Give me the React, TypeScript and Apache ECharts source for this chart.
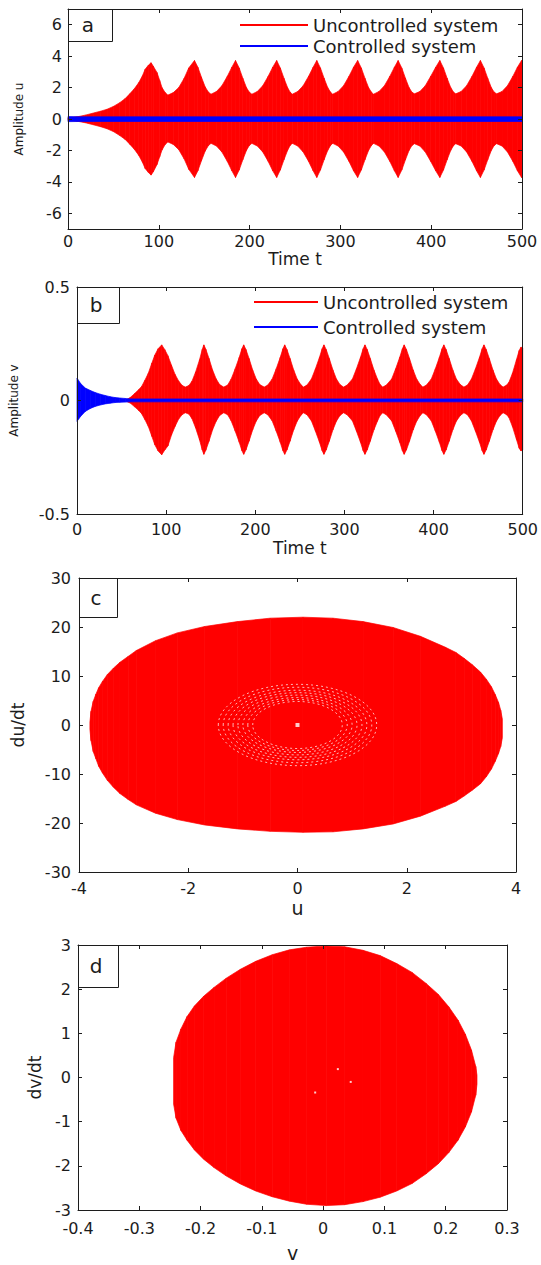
import React, { useEffect, useRef } from "react";
import * as echarts from "echarts";

// ---------------- data ----------------
const timeTicks = [0, 100, 200, 300, 400, 500];
const amplitudeUTicks = [-6, -4, -2, 0, 2, 4, 6];
const seriesNames = ["Uncontrolled system", "Controlled system"];
const panelLabels = ["a", "b", "c", "d"];

// [t, upper envelope, lower envelope] of u(t), uncontrolled
const uEnvelopeUncontrolled = [
  [0, 0.08, -0.08], [6, 0.12, -0.12], [12, 0.16, -0.16], [20, 0.26, -0.25], [28, 0.38, -0.37],
  [36, 0.5, -0.49], [43, 0.62, -0.62], [50, 0.8, -0.8], [57, 1.04, -1.05], [63, 1.3, -1.3],
  [68, 1.6, -1.6], [73, 1.92, -1.92], [78, 2.32, -2.32], [82, 2.75, -2.75], [85, 3.17, -3.15],
  [88.5, 3.42, -3.4], [91.5, 3.58, -3.57], [94, 3.35, -3.35], [98, 2.96, -2.9], [101, 2.45, -2.4],
  [103.5, 2.0, -1.98], [107, 1.68, -1.62], [110, 1.52, -1.46], [116, 1.68, -1.62], [122, 2.0, -1.95],
  [128, 2.6, -2.55], [133, 3.25, -3.2], [139.3, 3.72, -3.72], [143, 3.3, -3.3], [147, 2.65, -2.65],
  [151, 2.05, -2.05], [154.5, 1.72, -1.7], [157.5, 1.58, -1.55],
  [163.5, 1.75, -1.72], [169.5, 2.12, -2.1], [175.5, 2.72, -2.7], [180.5, 3.3, -3.3], [184.5, 3.72, -3.72],
  [188.5, 3.25, -3.25], [192.5, 2.6, -2.6], [196.5, 2.0, -2.0], [199.5, 1.72, -1.7], [202.5, 1.58, -1.55],
  [208.5, 1.75, -1.72], [214.5, 2.12, -2.1], [220.5, 2.72, -2.7], [225.5, 3.3, -3.3], [229.8, 3.72, -3.72],
  [233.8, 3.25, -3.25], [237.8, 2.6, -2.6], [241.8, 2.0, -2.0], [244.5, 1.72, -1.7], [247, 1.58, -1.55],
  [253, 1.75, -1.72], [259, 2.12, -2.1], [265, 2.72, -2.7], [270, 3.3, -3.3], [274, 3.72, -3.72],
  [278, 3.25, -3.25], [282, 2.6, -2.6], [286, 2.0, -2.0], [289, 1.72, -1.7], [291.5, 1.58, -1.55],
  [297.5, 1.75, -1.72], [303.5, 2.12, -2.1], [309.5, 2.72, -2.7], [314.5, 3.3, -3.3], [319, 3.72, -3.72],
  [323, 3.25, -3.25], [327, 2.6, -2.6], [331, 2.0, -2.0], [334, 1.72, -1.7], [336.5, 1.58, -1.55],
  [342.5, 1.75, -1.72], [348.5, 2.12, -2.1], [354.5, 2.72, -2.7], [359.5, 3.3, -3.3], [363.6, 3.72, -3.72],
  [367.6, 3.25, -3.25], [371.6, 2.6, -2.6], [375.6, 2.0, -2.0], [378.6, 1.72, -1.7], [381.5, 1.6, -1.57],
  [387.5, 1.75, -1.72], [393.5, 2.12, -2.1], [399.5, 2.72, -2.7], [405, 3.3, -3.3], [409.5, 3.72, -3.72],
  [413.5, 3.25, -3.25], [417.5, 2.6, -2.6], [421.5, 2.0, -2.0], [424.5, 1.72, -1.7], [427, 1.6, -1.57],
  [433, 1.75, -1.72], [439, 2.12, -2.1], [445, 2.72, -2.7], [450, 3.3, -3.3], [454.2, 3.72, -3.72],
  [458.2, 3.25, -3.25], [462.2, 2.6, -2.6], [466.2, 2.0, -2.0], [469.2, 1.72, -1.7], [472, 1.6, -1.57],
  [478, 1.75, -1.72], [484, 2.12, -2.1], [490, 2.72, -2.7], [495, 3.3, -3.3], [499.5, 3.72, -3.72],
  [500, 3.7, -3.7],
];

// [t, upper, lower] of u(t), controlled
const uEnvelopeControlled = [
  [0, 0.16, -0.17], [10, 0.14, -0.16], [500, 0.14, -0.16],
];

// [t, upper, lower] of v(t), uncontrolled
const vEnvelopeUncontrolled = [
  [55.7, 0.004, -0.004], [60, 0.014, -0.012], [65, 0.032, -0.029], [69, 0.047, -0.043],
  [72.5, 0.062, -0.058], [76, 0.088, -0.083], [80, 0.12, -0.114], [84, 0.165, -0.158],
  [87.3, 0.2, -0.195], [91, 0.228, -0.222], [95, 0.245, -0.239], [98.5, 0.224, -0.218],
  [102, 0.197, -0.2], [106, 0.155, -0.152], [110, 0.115, -0.114], [114, 0.086, -0.082],
  [118, 0.066, -0.062], [121.5, 0.059, -0.054], [125.5, 0.066, -0.06], [129, 0.085, -0.08],
  [133, 0.125, -0.12], [137.5, 0.18, -0.174], [140.5, 0.225, -0.218], [142.3, 0.245, -0.237],
  [144.5, 0.226, -0.219], [148, 0.186, -0.18], [152, 0.135, -0.13], [156, 0.096, -0.092],
  [160, 0.07, -0.066], [164.6, 0.059, -0.054],
  [169, 0.068, -0.063], [173, 0.095, -0.09], [177.5, 0.14, -0.135], [182, 0.19, -0.184],
  [185, 0.228, -0.221], [187, 0.245, -0.237], [189.5, 0.225, -0.218], [193, 0.185, -0.179],
  [197, 0.135, -0.13], [201, 0.095, -0.091], [205, 0.07, -0.066], [210, 0.059, -0.054],
  [214, 0.068, -0.063], [219, 0.095, -0.09], [223.5, 0.14, -0.135], [228, 0.19, -0.184],
  [231, 0.228, -0.221], [233, 0.245, -0.237], [235.5, 0.225, -0.218], [239, 0.185, -0.179],
  [243, 0.135, -0.13], [247, 0.095, -0.091], [251, 0.07, -0.066], [254, 0.059, -0.054],
  [258, 0.068, -0.063], [263, 0.095, -0.09], [267.5, 0.14, -0.135], [272, 0.19, -0.184],
  [275, 0.228, -0.221], [277, 0.245, -0.237], [279.5, 0.225, -0.218], [283, 0.185, -0.179],
  [287, 0.135, -0.13], [291, 0.095, -0.091], [295, 0.07, -0.066], [299, 0.059, -0.054],
  [303, 0.068, -0.063], [309, 0.095, -0.09], [313.5, 0.14, -0.135], [318, 0.19, -0.184],
  [321, 0.228, -0.221], [323, 0.245, -0.237], [325.5, 0.225, -0.218], [329, 0.185, -0.179],
  [333, 0.135, -0.13], [337, 0.095, -0.091], [340, 0.07, -0.066], [343, 0.059, -0.054],
  [347, 0.068, -0.063], [353, 0.095, -0.09], [357.5, 0.14, -0.135], [362, 0.19, -0.184],
  [365, 0.228, -0.221], [367, 0.245, -0.237], [369.5, 0.225, -0.218], [373, 0.185, -0.179],
  [377, 0.135, -0.13], [381, 0.095, -0.091], [385, 0.07, -0.066], [388, 0.059, -0.054],
  [392, 0.068, -0.063], [397.5, 0.095, -0.09], [402, 0.14, -0.135], [406.5, 0.19, -0.184],
  [409.5, 0.228, -0.221], [411.5, 0.245, -0.237], [414, 0.225, -0.218], [417.5, 0.185, -0.179],
  [421.5, 0.135, -0.13], [425.5, 0.095, -0.091], [430, 0.07, -0.066], [434, 0.059, -0.054],
  [438, 0.068, -0.063], [442.5, 0.095, -0.09], [447, 0.14, -0.135], [451.5, 0.19, -0.184],
  [454.5, 0.228, -0.221], [456.5, 0.245, -0.237], [459, 0.225, -0.218], [462.5, 0.185, -0.179],
  [466.5, 0.135, -0.13], [470.5, 0.095, -0.091], [474.5, 0.07, -0.066], [478, 0.059, -0.054],
  [482, 0.068, -0.063], [484.5, 0.08, -0.075], [488.5, 0.12, -0.115], [493, 0.18, -0.172],
  [496, 0.22, -0.21], [498, 0.235, -0.222], [500, 0.232, -0.218],
];

// [t, upper, lower] of v(t), controlled
const vEnvelopeControlled = [
  [0, 0.099, -0.092], [4, 0.075, -0.07], [9.3, 0.055, -0.048], [15, 0.044, -0.035],
  [20.4, 0.035, -0.026], [26, 0.028, -0.02], [31.6, 0.022, -0.015], [37, 0.017, -0.012],
  [42.7, 0.013, -0.009], [48, 0.011, -0.008], [54, 0.009, -0.007], [60, 0.007, -0.006],
  [500, 0.007, -0.006],
];

// phase portrait (u, du/dt): [u, upper du/dt, lower du/dt]
const phaseUBoundary = [
  [-3.8, 0.6, -0.9], [-3.78, 2.8, -3.2], [-3.74, 4.8, -5.4], [-3.69, 6.3, -6.9],
  [-3.64, 7.6, -8.4], [-3.57, 8.9, -9.8], [-3.48, 10.3, -11.3], [-3.37, 11.6, -12.7],
  [-3.25, 12.8, -14.0], [-3.1, 14.0, -15.2], [-2.95, 15.2, -16.3], [-2.6, 17.2, -18.0],
  [-2.2, 18.8, -19.3], [-1.7, 20.1, -20.4], [-1.1, 21.1, -21.2], [-0.5, 21.8, -21.7],
  [0.1, 22.0, -21.9], [0.65, 21.8, -21.8], [1.2, 21.1, -21.2], [1.75, 19.9, -20.2],
  [2.25, 18.1, -18.6], [2.7, 15.9, -16.6], [2.9, 14.8, -15.6], [3.05, 13.6, -14.5],
  [3.2, 12.3, -13.3], [3.35, 10.8, -12.0], [3.46, 9.3, -10.5], [3.55, 7.8, -9.0],
  [3.62, 6.2, -7.4], [3.68, 4.6, -5.8], [3.72, 3.0, -4.4], [3.75, 1.2, -2.6],
];
// white inner orbits: [u half-width, du/dt half-height]
const phaseURings = [
  [1.45, 8.3], [1.36, 7.7], [1.27, 7.1], [1.18, 6.6], [1.09, 6.1], [1.0, 5.6], [0.91, 5.2], [0.82, 4.8],
];
const phaseUCenter = [[0, 0]];

// phase portrait (v, dv/dt): [v, upper dv/dt, lower dv/dt]
const phaseVBoundary = [
  [-0.244, 0.45, -0.6], [-0.24, 0.8, -0.92], [-0.232, 1.1, -1.2], [-0.222, 1.38, -1.42],
  [-0.21, 1.62, -1.64], [-0.195, 1.84, -1.85], [-0.178, 2.04, -2.04], [-0.158, 2.25, -2.23],
  [-0.135, 2.45, -2.41], [-0.11, 2.63, -2.57], [-0.083, 2.78, -2.7], [-0.055, 2.89, -2.8],
  [-0.027, 2.95, -2.87], [0.005, 2.98, -2.9], [0.035, 2.96, -2.88], [0.065, 2.88, -2.81],
  [0.093, 2.76, -2.71], [0.12, 2.58, -2.57], [0.145, 2.38, -2.4], [0.168, 2.13, -2.18],
  [0.188, 1.88, -1.95], [0.205, 1.6, -1.7], [0.22, 1.3, -1.42], [0.232, 0.98, -1.12],
  [0.242, 0.62, -0.78], [0.249, 0.25, -0.4], [0.251, 0.05, -0.15],
];
const phaseVDots = [[0.024, 0.19], [0.045, -0.1], [-0.013, -0.34]];

// ---------------- styling ----------------
const FONT = "DejaVu Sans";
const INK = "#1c1c1c";
const RED = "#ff0000";
const BLUE = "#0000ff";

const axisLineStyle = { color: INK, width: 1 };

function mainX(gridIndex: number, min: number, max: number, interval: number, name: string, nameGap: number, margin: number, nameSize: number) {
  return {
    type: "value", gridIndex, position: "bottom", min, max, interval, z: 10,
    axisLine: { show: true, onZero: false, lineStyle: axisLineStyle },
    axisTick: { show: true, inside: true, length: 4, lineStyle: axisLineStyle },
    axisLabel: { margin, fontFamily: FONT, fontSize: 16, color: INK },
    splitLine: { show: false },
    name, nameLocation: "middle", nameGap,
    nameTextStyle: { fontFamily: FONT, fontSize: nameSize, color: INK },
  };
}
function mirrorX(gridIndex: number, min: number, max: number, interval: number) {
  return {
    type: "value", gridIndex, position: "top", min, max, interval, z: 10,
    axisLine: { show: true, onZero: false, lineStyle: axisLineStyle },
    axisTick: { show: true, inside: true, length: 4, lineStyle: axisLineStyle },
    axisLabel: { show: false },
    splitLine: { show: false },
  };
}
function mainY(gridIndex: number, min: number, max: number, interval: number | undefined, name: string, nameGap: number, margin: number, nameSize: number, custom?: number[]) {
  return {
    type: "value", gridIndex, position: "left", min, max, interval, z: 10,
    axisLine: { show: true, onZero: false, lineStyle: axisLineStyle },
    axisTick: { show: true, inside: true, length: 4, lineStyle: axisLineStyle, ...(custom ? { customValues: custom } : {}) },
    axisLabel: { margin, fontFamily: FONT, fontSize: 16, color: INK, ...(custom ? { customValues: custom } : {}) },
    splitLine: { show: false },
    name, nameLocation: "middle", nameGap,
    nameTextStyle: { fontFamily: FONT, fontSize: nameSize, color: INK },
  };
}
function mirrorY(gridIndex: number, min: number, max: number, interval: number | undefined, custom?: number[]) {
  return {
    type: "value", gridIndex, position: "right", min, max, interval, z: 10,
    axisLine: { show: true, onZero: false, lineStyle: axisLineStyle },
    axisTick: { show: true, inside: true, length: 4, lineStyle: axisLineStyle, ...(custom ? { customValues: custom } : {}) },
    axisLabel: { show: false },
    splitLine: { show: false },
  };
}

// band between upper and lower envelopes, drawn through the axes' scales
function bandSeries(name: string, env: number[][], color: string, axisIndex: number, z: number) {
  return {
    type: "custom",
    name,
    xAxisIndex: axisIndex,
    yAxisIndex: axisIndex,
    z,
    silent: true,
    itemStyle: { color },
    data: env,
    encode: { x: 0, y: [1, 2] },
    renderItem: (params: any, api: any) => {
      const i = params.dataIndex;
      if (i >= env.length - 1) return null;
      const a = env[i];
      const b = env[i + 1];
      const pts = [
        api.coord([a[0], a[1]]),
        api.coord([b[0], b[1]]),
        api.coord([b[0], b[2]]),
        api.coord([a[0], a[2]]),
      ];
      return {
        type: "polygon",
        shape: { points: pts },
        style: { fill: color, stroke: color, lineWidth: 0.7 },
      };
    },
  };
}

function labelBox(x: number, y: number, w: number, h: number, label: string) {
  return {
    type: "group",
    z: 20,
    children: [
      { type: "rect", shape: { x: x + 0.5, y: y + 0.5, width: w, height: h }, style: { fill: "#fff", stroke: INK, lineWidth: 1 } },
      {
        type: "text",
        style: {
          text: label, x: x + w / 2 - 2, y: y + h / 2,
          font: `20px "${FONT}"`, fill: INK, align: "center", verticalAlign: "middle",
        },
      },
    ],
  };
}

function buildOption() {
  const legendText = { fontFamily: FONT, fontSize: 18, color: INK, lineHeight: 18 };
  return {
    animation: false,
    backgroundColor: "#ffffff",
    grid: [
      { left: 68, top: 9, width: 454, height: 220 },
      { left: 77, top: 287, width: 448, height: 227 },
      { left: 79, top: 578, width: 437, height: 294 },
      { left: 78, top: 945, width: 429, height: 265 },
    ],
    xAxis: [
      mainX(0, timeTicks[0], timeTicks[timeTicks.length - 1], 100, "Time t", 21, 4, 17),
      mirrorX(0, 0, 500, 100),
      mainX(1, timeTicks[0], timeTicks[timeTicks.length - 1], 100, "Time t", 25, 7, 17),
      mirrorX(1, 0, 500, 100),
      mainX(2, -4, 4, 2, "u", 26, 8, 19),
      mirrorX(2, -4, 4, 2),
      mainX(3, -0.4, 0.3, 0.1, "v", 33, 10, 19),
      mirrorX(3, -0.4, 0.3, 0.1),
    ],
    yAxis: [
      mainY(0, -7, 7, undefined, "Amplitude u", 43, 6, 12, amplitudeUTicks),
      mirrorY(0, -7, 7, undefined, amplitudeUTicks),
      mainY(1, -0.5, 0.5, 0.5, "Amplitude v", 57, 7, 12),
      mirrorY(1, -0.5, 0.5, 0.5),
      mainY(2, -30, 30, 10, "du/dt", 53, 8, 17),
      mirrorY(2, -30, 30, 10),
      mainY(3, -3, 3, 1, "dv/dt", 35, 7, 17),
      mirrorY(3, -3, 3, 1),
    ],
    legend: [
      {
        orient: "vertical", left: 240, top: 16, padding: 0, itemGap: 3,
        icon: "rect", itemWidth: 68, itemHeight: 2, selectedMode: false,
        textStyle: legendText,
        data: [
          { name: seriesNames[0], itemStyle: { color: RED } },
          { name: seriesNames[1], itemStyle: { color: BLUE } },
        ],
      },
      {
        orient: "vertical", left: 254, top: 293, padding: 0, itemGap: 7,
        icon: "rect", itemWidth: 64, itemHeight: 2, selectedMode: false,
        textStyle: legendText,
        data: [
          { name: seriesNames[0], itemStyle: { color: RED } },
          { name: seriesNames[1], itemStyle: { color: BLUE } },
        ],
      },
    ],
    series: [
      // panel a
      bandSeries(seriesNames[0], uEnvelopeUncontrolled, RED, 0, 2),
      bandSeries(seriesNames[1], uEnvelopeControlled, BLUE, 0, 3),
      // panel b
      bandSeries(seriesNames[0], vEnvelopeUncontrolled, RED, 2, 2),
      bandSeries(seriesNames[1], vEnvelopeControlled, BLUE, 2, 3),
      // panel c
      bandSeries("Phase portrait u", phaseUBoundary, RED, 4, 2),
      {
        type: "custom", name: "Inner orbits u", xAxisIndex: 4, yAxisIndex: 4, z: 3, silent: true,
        data: phaseURings,
        renderItem: (params: any, api: any) => {
          const c = api.coord(phaseUCenter[0]);
          const s = api.size([api.value(0), api.value(1)]);
          return {
            type: "ellipse",
            shape: { cx: c[0], cy: c[1], rx: s[0], ry: s[1] },
            style: { fill: "none", stroke: "#ffffff", lineWidth: 0.7, lineDash: [2, 3] },
          };
        },
      },
      {
        type: "scatter", name: "Centre u", xAxisIndex: 4, yAxisIndex: 4, z: 4, silent: true,
        symbol: "rect", symbolSize: 4, itemStyle: { color: "#ffffff" }, data: phaseUCenter,
      },
      // panel d
      bandSeries("Phase portrait v", phaseVBoundary, RED, 6, 2),
      {
        type: "scatter", name: "Dots v", xAxisIndex: 6, yAxisIndex: 6, z: 4, silent: true,
        symbol: "rect", symbolSize: 2, itemStyle: { color: "#ffffff" }, data: phaseVDots,
      },
    ],
    graphic: [
      labelBox(68, 9, 44, 32, panelLabels[0]),
      labelBox(77, 287, 42, 36, panelLabels[1]),
      labelBox(79, 578, 38, 39, panelLabels[2]),
      labelBox(78, 945, 40, 42, panelLabels[3]),
    ],
  };
}

export default function App() {
  const ref = useRef<HTMLDivElement>(null);
  useEffect(() => {
    const el = ref.current;
    if (!el) return;
    const chart = echarts.init(el, undefined, { renderer: "svg" });
    chart.setOption(buildOption() as any);
    return () => chart.dispose();
  }, []);
  return (
    <div
      ref={ref}
      style={{ position: "absolute", left: 0, top: 0, width: 541, height: 1265, background: "#fff" }}
    />
  );
}
